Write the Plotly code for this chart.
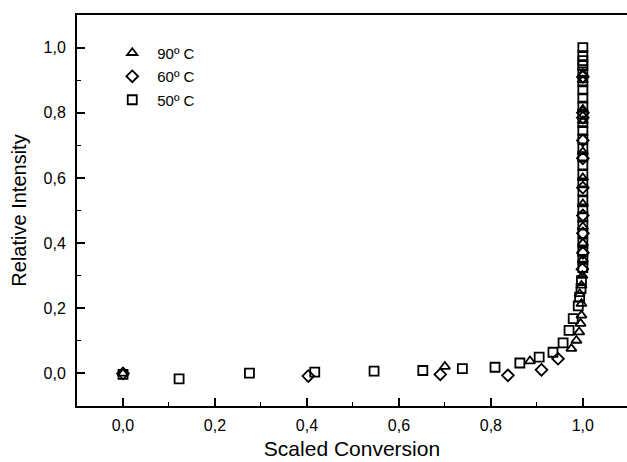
import plotly.graph_objects as go

# 90 °C (triangles)
x90 = [0.0, 0.70, 0.885, 0.975, 0.986, 0.992, 0.995, 0.997, 0.997, 0.993, 0.997, 0.999,
       1.0, 1.0, 1.0, 1.0, 1.0, 1.0, 1.0, 1.0, 1.0, 1.0]
y90 = [0.0, 0.021, 0.038, 0.076, 0.101, 0.127, 0.153, 0.178, 0.214, 0.244, 0.27, 0.30,
       0.35, 0.40, 0.45, 0.52, 0.60, 0.68, 0.775, 0.81, 0.90, 0.92]

# 60 °C (diamonds)
x60 = [0.0, 0.403, 0.69, 0.837, 0.91, 0.946, 0.999, 1.0, 1.0, 1.0, 1.0, 1.0, 1.0, 1.0, 1.0, 1.0]
y60 = [0.0, -0.008, -0.003, -0.006, 0.011, 0.045, 0.32, 0.37, 0.43, 0.485, 0.57, 0.66,
       0.715, 0.785, 0.80, 0.91]

# 50 °C (squares)
x50 = [0.0, 0.122, 0.275, 0.417, 0.546, 0.652, 0.738, 0.809, 0.863, 0.905, 0.935, 0.957,
       0.97, 0.979, 0.99, 0.993, 0.996, 0.997, 1.0, 1.0, 1.0, 1.0, 1.0, 1.0, 1.0, 1.0,
       1.0, 1.0, 1.0, 1.0, 1.0, 1.0, 1.0, 1.0, 1.0, 1.0, 1.0, 1.0, 1.0, 1.0, 1.0, 1.0,
       1.0, 1.0, 1.0, 1.0]
y50 = [-0.003, -0.017, 0.001, 0.004, 0.007, 0.009, 0.015, 0.019, 0.032, 0.05, 0.065, 0.094,
       0.132, 0.168, 0.207, 0.234, 0.26, 0.285, 0.325, 0.35, 0.375, 0.40, 0.43, 0.455,
       0.48, 0.505, 0.53, 0.56, 0.585, 0.61, 0.64, 0.665, 0.69, 0.72, 0.745, 0.77, 0.795,
       0.82, 0.845, 0.87, 0.895, 0.925, 0.945, 0.96, 0.975, 1.0]

names = ["90º C", "60º C", "50º C"]

FONT = "Liberation Sans, Arial, sans-serif"
MLINE = 1.8
fig = go.Figure()
fig.add_trace(go.Scatter(x=x90, y=y90, mode="markers", name=names[0], legendgroup="a",
                         marker=dict(symbol="triangle-up-open", size=9, color="black",
                                     line=dict(width=MLINE, color="black"))))
fig.add_trace(go.Scatter(x=x60, y=y60, mode="markers", name=names[1], legendgroup="b",
                         marker=dict(symbol="diamond-open", size=9, color="black",
                                     line=dict(width=MLINE, color="black"))))
fig.add_trace(go.Scatter(x=x50, y=y50, mode="markers", name=names[2], legendgroup="c",
                         marker=dict(symbol="square-open", size=9, color="black",
                                     line=dict(width=MLINE, color="black"))))

fig.update_layout(
    width=627, height=462,
    margin=dict(l=77, r=0, t=15, b=56),
    paper_bgcolor="white", plot_bgcolor="white",
    separators=",.",
    font=dict(family=FONT, color="black", size=16),
    showlegend=True,
    legend=dict(x=0.055, y=0.945, xanchor="left", yanchor="top",
                bgcolor="rgba(0,0,0,0)", font=dict(size=15), itemwidth=40,
                tracegroupgap=1, traceorder="grouped"),
    xaxis=dict(range=[-0.1, 1.096], tickmode="linear", tick0=0, dtick=0.2,
               tickformat=".1f", ticks="inside", ticklen=8, tickwidth=1.5,
               tickcolor="black", showline=True, linecolor="black", linewidth=2,
               mirror=True, showgrid=False, zeroline=False, ticklabelstandoff=4,
               minor=dict(ticks="inside", dtick=0.1, ticklen=4, tickwidth=1.2,
                          tickcolor="black", showgrid=False),
               title=dict(text="Scaled Conversion", font=dict(size=21), standoff=8)),
    yaxis=dict(range=[-0.1, 1.1], tickmode="linear", tick0=0, dtick=0.2,
               tickformat=".1f", ticks="inside", ticklen=8, tickwidth=1.5,
               tickcolor="black", showline=True, linecolor="black", linewidth=2,
               mirror=False, showgrid=False, zeroline=False, ticklabelstandoff=6,
               minor=dict(ticks="inside", dtick=0.1, ticklen=4, tickwidth=1.2,
                          tickcolor="black", showgrid=False),
               title=dict(text="Relative Intensity", font=dict(size=20), standoff=12)),
)

fig.write_html("out.html")
